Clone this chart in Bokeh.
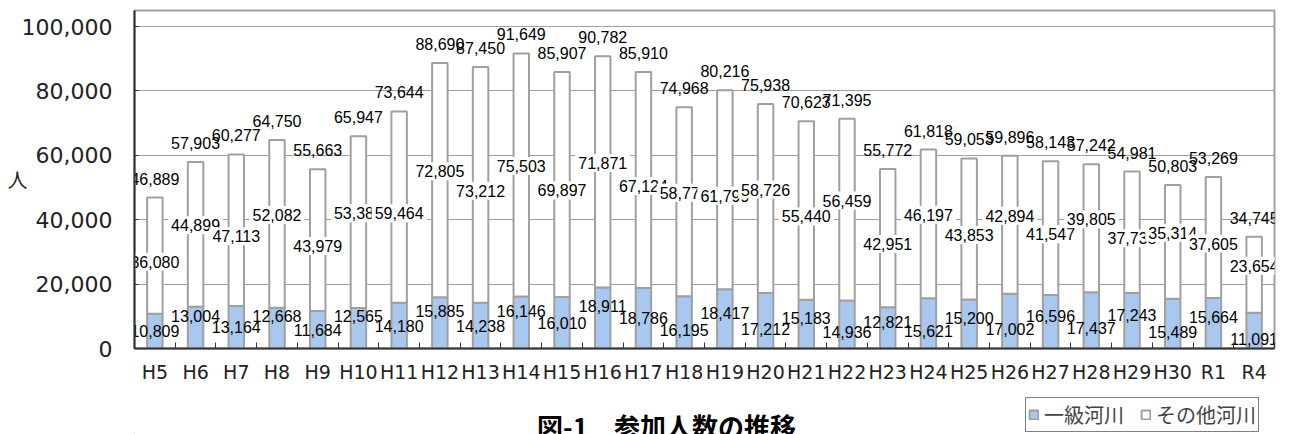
from bokeh.plotting import figure
from bokeh.layouts import column
from bokeh.models import (Range1d, FixedTicker, ColumnDataSource, Legend, LegendItem,
                          Label, NumeralTickFormatter)
from bokeh.embed import file_html
from bokeh.resources import INLINE

# ---- data ----
years = ["H5", "H6", "H7", "H8", "H9", "H10", "H11", "H12", "H13", "H14", "H15",
         "H16", "H17", "H18", "H19", "H20", "H21", "H22", "H23", "H24", "H25",
         "H26", "H27", "H28", "H29", "H30", "R1", "R4"]
ikkyu = [10809, 13004, 13164, 12668, 11684, 12565, 14180, 15885, 14238, 16146,
         16010, 18911, 18786, 16195, 18417, 17212, 15183, 14936, 12821, 15621,
         15200, 17002, 16596, 17437, 17243, 15489, 15664, 11091]
sonota = [36080, 44899, 47113, 52082, 43979, 53382, 59464, 72805, 73212, 75503,
          69897, 71871, 67124, 58773, 61799, 58726, 55440, 56459, 42951, 46197,
          43853, 42894, 41547, 39805, 37738, 35314, 37605, 23654]
y_ticks = [0, 20000, 40000, 60000, 80000, 100000]
series_names = ["一級河川", "その他河川"]
title_text = "図-1　参加人数の推移"
unit_text = "人"

# ---- derived ----
n = len(years)
xs = list(range(n))
totals = [a + b for a, b in zip(ikkyu, sonota)]
mid = [a + b / 2 for a, b in zip(ikkyu, sonota)]
blue_mid = [a / 2 for a in ikkyu]


def stagger_blue(i):
    if i < 13:
        return -12 if i % 2 else 0
    return 8 if i % 2 else -6


def stagger_mid(i):
    return -9 if i % 2 else 6


src = ColumnDataSource(dict(
    x=xs, ikkyu=ikkyu, total=totals, mid=mid, blue_mid=blue_mid,
    t_ikkyu=[f"{v:,}" for v in ikkyu],
    t_sonota=[f"{v:,}" for v in sonota],
    t_total=[f"{v:,}" for v in totals],
    off_b=[stagger_blue(i) for i in xs],
    off_m=[stagger_mid(i) for i in xs],
))

GRAY = "#a0a0a0"
BLUE = "#a8c8f0"
DARK = "#333333"
LABEL_FONT = "Liberation Sans"
TICK_FONT = "DejaVu Sans"
JP_FONT = "Noto Sans CJK JP"

W, H_MAIN, H_CAP = 1295, 397, 37
LEFT, RIGHT = 134, 21

p = figure(width=W, height=H_MAIN,
           x_range=Range1d(-0.5, n - 0.5), y_range=Range1d(0, 105000),
           output_backend="svg", toolbar_location=None,
           min_border_left=LEFT, min_border_right=RIGHT,
           min_border_top=10, min_border_bottom=49)
p.background_fill_color = "white"
p.border_fill_color = "white"
p.outline_line_color = GRAY
p.outline_line_width = 2

# grid
p.xgrid.visible = False
p.ygrid.grid_line_color = GRAY
p.ygrid.grid_line_width = 1
p.ygrid.ticker = FixedTicker(ticks=y_ticks)

# y axis
p.yaxis.ticker = FixedTicker(ticks=y_ticks)
p.yaxis.formatter = NumeralTickFormatter(format="0,0")
p.yaxis.axis_line_color = DARK
p.yaxis.axis_line_width = 2
p.yaxis.major_tick_in = 4
p.yaxis.major_tick_out = 0
p.yaxis.major_tick_line_color = DARK
p.yaxis.minor_tick_line_color = None
p.yaxis.major_label_text_font = TICK_FONT
p.yaxis.major_label_text_font_size = "22px"
p.yaxis.major_label_text_color = "#222222"
p.yaxis.major_label_standoff = 22
p.yaxis.axis_label = unit_text
p.yaxis.axis_label_orientation = "horizontal"
p.yaxis.axis_label_text_font = JP_FONT
p.yaxis.axis_label_text_font_size = "20px"
p.yaxis.axis_label_text_font_style = "normal"
p.yaxis.axis_label_text_color = "#222222"
p.yaxis.axis_label_standoff = -9

# x axis
p.xaxis.ticker = FixedTicker(ticks=xs, minor_ticks=[i - 0.5 for i in range(n + 1)])
p.xaxis.major_label_overrides = {i: y for i, y in enumerate(years)}
p.xaxis.axis_line_color = DARK
p.xaxis.axis_line_width = 2
p.xaxis.major_tick_in = 0
p.xaxis.major_tick_out = 0
p.xaxis.minor_tick_in = 6
p.xaxis.minor_tick_out = 0
p.xaxis.minor_tick_line_color = DARK
p.xaxis.major_label_text_font = TICK_FONT
p.xaxis.major_label_text_font_size = "19px"
p.xaxis.major_label_text_color = "#222222"
p.xaxis.major_label_standoff = 12

# bars
r_blue = p.vbar(x="x", bottom=0, top="ikkyu", width=0.38, source=src,
                fill_color=BLUE, line_color=GRAY, line_width=2)
r_white = p.vbar(x="x", bottom="ikkyu", top="total", width=0.38, source=src,
                 fill_color="white", line_color=GRAY, line_width=2)

# labels
p.text(x="x", y="mid", text="t_sonota", source=src, y_offset="off_m",
       text_align="center", text_baseline="middle",
       text_font={"value": LABEL_FONT}, text_font_size="16px", text_color="black",
       background_fill_color="white", padding=3)
p.text(x="x", y="blue_mid", text="t_ikkyu", source=src, y_offset="off_b",
       text_align="center", text_baseline="middle",
       text_font={"value": LABEL_FONT}, text_font_size="16px", text_color="black")
p.text(x="x", y="total", text="t_total", source=src, y_offset=-19,
       text_align="center", text_baseline="middle",
       text_font={"value": LABEL_FONT}, text_font_size="16px", text_color="black")

# ---- caption strip with legend (frame aligned with main plot frame) ----
p2 = figure(width=W, height=H_CAP,
            x_range=Range1d(LEFT, W - RIGHT), y_range=Range1d(0, H_CAP),
            output_backend="svg", toolbar_location=None,
            min_border_left=LEFT, min_border_right=RIGHT,
            min_border_top=0, min_border_bottom=0)
p2.axis.visible = False
p2.grid.visible = False
p2.outline_line_color = None
p2.background_fill_color = "white"
p2.border_fill_color = "white"

# legend swatches (kept outside the visible range)
sw = ColumnDataSource(dict(x=[-1000], top=[0]))
lg_blue = p2.vbar(x="x", top="top", width=0.38, source=sw,
                  fill_color=BLUE, line_color=GRAY, line_width=2)
lg_white = p2.vbar(x="x", top="top", width=0.38, source=sw,
                   fill_color="white", line_color=GRAY, line_width=2)

legend = Legend(items=[LegendItem(label=series_names[0], renderers=[lg_blue]),
                       LegendItem(label=series_names[1], renderers=[lg_white])],
                location=(1025 - LEFT, 2), orientation="horizontal")
legend.label_text_font = JP_FONT
legend.label_text_font_size = "20px"
legend.label_height = 20
legend.glyph_width = 11
legend.glyph_height = 11
legend.label_standoff = 5
legend.spacing = 16
legend.padding = 2
legend.margin = 0
legend.border_line_color = "black"
legend.border_line_width = 1.5
legend.background_fill_color = "white"
legend.background_fill_alpha = 1
p2.add_layout(legend)

p2.add_layout(Label(x=666, y=H_CAP - 9, text=title_text,
                    text_font=JP_FONT, text_font_size="26px", text_font_style="bold",
                    text_align="center", text_baseline="top", text_color="black"))

layout = column(p, p2, spacing=0)
open("out.html", "w").write(file_html(layout, INLINE))
